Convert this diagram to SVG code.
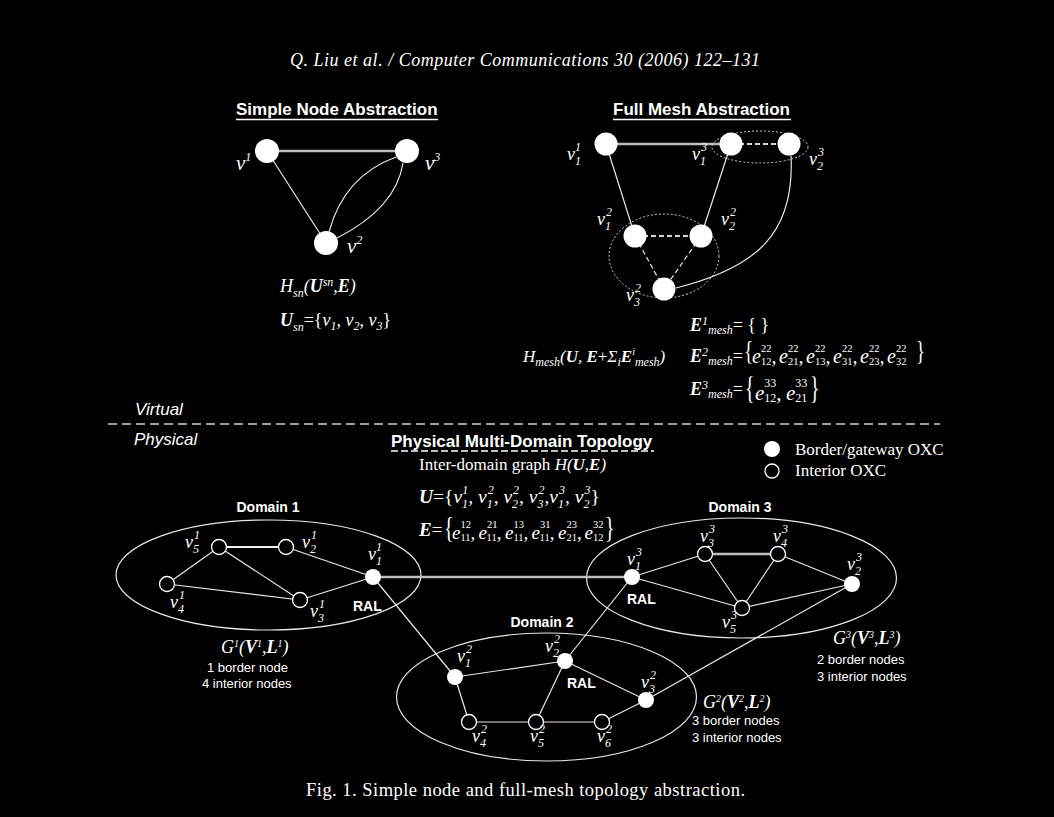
<svg xmlns="http://www.w3.org/2000/svg" width="1054" height="817" viewBox="0 0 1054 817">
<style>
.m{font-family:"Liberation Serif","Times New Roman",serif;font-style:italic;font-size:18px;fill:#fff}
.s{font-size:12px}
.s2{font-size:10px}
.n{font-style:normal;font-size:10.5px}
.b{font-weight:bold}
.up{font-style:normal}
.br{font-family:"Liberation Serif",serif;font-style:normal;fill:#fff;font-size:19px}
.h{font-family:"Liberation Sans",Arial,sans-serif;font-weight:bold;font-size:17px;fill:#fff}
.d{font-family:"Liberation Sans",Arial,sans-serif;font-weight:bold;font-size:14px;fill:#fff}
.p{font-family:"Liberation Sans",Arial,sans-serif;font-size:13px;fill:#fff}
.it{font-family:"Liberation Sans",Arial,sans-serif;font-style:italic;font-size:17px;fill:#fff}
.sf{font-family:"Liberation Serif","Times New Roman",serif;font-size:17px;fill:#fff}
.e{stroke:#e8e8e8;stroke-width:1.2;fill:none}
.tk{stroke:#bdbdbd;stroke-width:2.5;fill:none}
.tw{stroke:#f0f0f0;stroke-width:2;fill:none}
.ds{stroke:#e8e8e8;stroke-width:1.2;stroke-dasharray:5 3;fill:none}
.dsk{stroke:#d8d8d8;stroke-width:2;stroke-dasharray:5 3;fill:none}
.dot{stroke:#d0d0d0;stroke-width:1;stroke-dasharray:2 2;fill:none}
.dom{stroke:#e8e8e8;stroke-width:1.2;fill:none}
.ul{stroke:#fff;stroke-width:1.4}
.bn{fill:#fff}
.in{fill:#000;stroke:#fff;stroke-width:1.3}
</style>
<rect width="1054" height="817" fill="#000"/>

<!-- header and caption -->
<text class="m" x="290" y="66" textLength="470" lengthAdjust="spacing">Q. Liu et al. / Computer Communications 30 (2006) 122–131</text>
<text class="sf" x="306" y="796" style="font-size:18.5px" textLength="439" lengthAdjust="spacing">Fig. 1.  Simple node and full-mesh topology abstraction.</text>

<!-- titles -->
<g id="titles">
<text class="h" x="236" y="115">Simple Node Abstraction</text>
<line class="ul" x1="236" y1="119.5" x2="438" y2="119.5"/>
<text class="h" x="613" y="115">Full Mesh Abstraction</text>
<line class="ul" x1="613" y1="119.5" x2="791" y2="119.5"/>
<text class="h" x="391" y="447">Physical Multi-Domain Topology</text>
<line class="ul" x1="391" y1="451" x2="654" y2="451" stroke-dasharray="7 3"/>
<text class="it" x="135" y="415">Virtual</text>
<text class="it" x="134" y="445">Physical</text>
<line x1="108" y1="424" x2="940" y2="424" stroke="#cfcfcf" stroke-width="1.5" stroke-dasharray="9 5"/>
</g>

<!-- domain ellipses and abstraction ellipses -->
<g id="regions">
<ellipse class="dom" cx="268.5" cy="575" rx="152.5" ry="55"/>
<ellipse class="dom" cx="546.5" cy="697" rx="150" ry="64"/>
<ellipse class="dom" cx="741.5" cy="578" rx="155" ry="60"/>
<ellipse class="dot" cx="760" cy="147" rx="48" ry="16"/>
<ellipse class="dot" cx="664" cy="256" rx="55" ry="42"/>
</g>

<!-- connectors -->
<g id="connectors">
<!-- simple node -->
<line class="tk" x1="267" y1="151" x2="407" y2="151"/>
<line class="e" x1="267" y1="151" x2="326" y2="243"/>
<path class="e" d="M329,232 Q344,176 396,157"/>
<path class="e" d="M337,238 Q396,208 403,163"/>
<!-- full mesh -->
<line class="tk" x1="606" y1="144" x2="731" y2="144"/>
<line class="dsk" x1="731" y1="144" x2="789" y2="144"/>
<line class="e" x1="606" y1="144" x2="635" y2="236"/>
<line class="e" x1="731" y1="144" x2="701" y2="236"/>
<line class="dsk" x1="635" y1="236" x2="701" y2="236"/>
<line class="ds" x1="635" y1="236" x2="664" y2="289"/>
<line class="ds" x1="701" y1="236" x2="664" y2="289"/>
<path class="e" d="M791,156 C795,235 755,268 676,288"/>
<!-- domain 1 -->
<line class="tw" x1="219" y1="547" x2="286" y2="547"/>
<line class="e" x1="219" y1="547" x2="167" y2="584"/>
<line class="e" x1="219" y1="547" x2="300" y2="600"/>
<line class="e" x1="167" y1="584" x2="300" y2="600"/>
<line class="e" x1="286" y1="547" x2="373" y2="577"/>
<line class="e" x1="300" y1="600" x2="373" y2="577"/>
<!-- domain 2 -->
<line class="e" x1="455" y1="677" x2="565" y2="661"/>
<line class="e" x1="455" y1="677" x2="469" y2="722"/>
<line class="e" x1="565" y1="661" x2="536" y2="722"/>
<line class="e" x1="565" y1="661" x2="646" y2="700"/>
<line class="e" x1="469" y1="722" x2="536" y2="722"/>
<line class="e" x1="536" y1="722" x2="602" y2="722"/>
<line class="e" x1="602" y1="722" x2="646" y2="700"/>
<!-- domain 3 -->
<line class="e" x1="632" y1="577" x2="705" y2="554"/>
<line class="tk" x1="705" y1="554" x2="778" y2="554"/>
<line class="e" x1="705" y1="554" x2="742" y2="608"/>
<line class="e" x1="778" y1="554" x2="742" y2="608"/>
<line class="e" x1="778" y1="554" x2="852" y2="584"/>
<line class="e" x1="742" y1="608" x2="852" y2="584"/>
<line class="e" x1="632" y1="577" x2="742" y2="608"/>
<!-- inter-domain -->
<line class="tk" x1="373" y1="577" x2="632" y2="577"/>
<line class="e" x1="373" y1="577" x2="455" y2="677"/>
<line class="e" x1="565" y1="661" x2="632" y2="577"/>
<line class="e" x1="646" y1="700" x2="852" y2="584"/>
</g>

<!-- simple node abstraction nodes -->
<g id="sn-v1"><circle class="bn" cx="267" cy="151" r="12"/><text class="m" x="236" y="170" style="font-size:21px">v<tspan class="s" dy="-9">1</tspan></text></g>
<g id="sn-v3"><circle class="bn" cx="407" cy="151" r="12"/><text class="m" x="425" y="170" style="font-size:21px">v<tspan class="s" dy="-9">3</tspan></text></g>
<g id="sn-v2"><circle class="bn" cx="326" cy="243" r="12"/><text class="m" x="347" y="253" style="font-size:21px">v<tspan class="s" dy="-9">2</tspan></text></g>
<g id="sn-eq">
<text class="m" x="280" y="292">H<tspan class="s" dy="5">sn</tspan><tspan dy="-5">(</tspan><tspan class="b">U</tspan><tspan class="s" dy="-6">sn</tspan><tspan dy="6">,</tspan><tspan class="b">E</tspan>)</text>
<text class="m" x="280" y="326"><tspan class="b">U</tspan><tspan class="s" dy="5">sn</tspan><tspan class="up" dy="-5">={</tspan>v<tspan class="s" dy="4">1</tspan><tspan dy="-4">, v</tspan><tspan class="s" dy="4">2</tspan><tspan dy="-4">, v</tspan><tspan class="s" dy="4">3</tspan><tspan class="up" dy="-4">}</tspan></text>
</g>

<!-- full mesh nodes -->
<g id="fm-v11"><circle class="bn" cx="606" cy="144" r="11.5"/><text class="m" x="567" y="160">v<tspan class="s" dy="5">1</tspan><tspan class="s" dx="-5" dy="-14">1</tspan></text></g>
<g id="fm-v13"><circle class="bn" cx="731" cy="144" r="11.5"/><text class="m" x="692" y="160">v<tspan class="s" dy="5">1</tspan><tspan class="s" dx="-5" dy="-14">3</tspan></text></g>
<g id="fm-v23"><circle class="bn" cx="789" cy="144" r="11.5"/><text class="m" x="809" y="165">v<tspan class="s" dy="5">2</tspan><tspan class="s" dx="-5" dy="-14">3</tspan></text></g>
<g id="fm-v12"><circle class="bn" cx="635" cy="236" r="11.5"/><text class="m" x="597" y="225">v<tspan class="s" dy="5">1</tspan><tspan class="s" dx="-5" dy="-14">2</tspan></text></g>
<g id="fm-v22"><circle class="bn" cx="701" cy="236" r="11.5"/><text class="m" x="721" y="225">v<tspan class="s" dy="5">2</tspan><tspan class="s" dx="-5" dy="-14">2</tspan></text></g>
<g id="fm-v32"><circle class="bn" cx="664" cy="289" r="11.5"/><text class="m" x="626" y="301">v<tspan class="s" dy="5">3</tspan><tspan class="s" dx="-5" dy="-14">2</tspan></text></g>

<!-- mesh equations -->
<g id="mesh-eq">
<text class="m" x="523" y="362" style="font-size:17px">H<tspan class="s" dy="4">mesh</tspan><tspan dy="-4">(</tspan><tspan class="b">U</tspan>, <tspan class="b">E</tspan><tspan class="up">+</tspan>Σ<tspan class="s" dy="4">i</tspan><tspan class="b" dy="-4">E</tspan><tspan class="s2" dy="-7">i</tspan><tspan class="s" dy="11">mesh</tspan><tspan dy="-4">)</tspan></text>
<text class="m" x="690" y="331"><tspan class="b">E</tspan><tspan class="s" dy="-6">1</tspan><tspan class="s" dy="9">mesh</tspan><tspan class="up" dy="-3">= { }</tspan></text>
<text class="m" x="690" y="362"><tspan class="b">E</tspan><tspan class="s" dy="-6">2</tspan><tspan class="s" dy="9">mesh</tspan><tspan class="up" dy="-3">=</tspan></text>
<text class="br" transform="translate(744,360) scale(1,1.4)">{</text>
<text class="m" y="363" style="font-size:20px"><tspan x="752">e</tspan><tspan class="n" dy="-11">22</tspan><tspan class="n" dx="-10.5" dy="13">12</tspan><tspan dy="-2">,</tspan><tspan x="779">e</tspan><tspan class="n" dy="-11">22</tspan><tspan class="n" dx="-10.5" dy="13">21</tspan><tspan dy="-2">,</tspan><tspan x="806">e</tspan><tspan class="n" dy="-11">22</tspan><tspan class="n" dx="-10.5" dy="13">13</tspan><tspan dy="-2">,</tspan><tspan x="833">e</tspan><tspan class="n" dy="-11">22</tspan><tspan class="n" dx="-10.5" dy="13">31</tspan><tspan dy="-2">,</tspan><tspan x="860">e</tspan><tspan class="n" dy="-11">22</tspan><tspan class="n" dx="-10.5" dy="13">23</tspan><tspan dy="-2">,</tspan><tspan x="887">e</tspan><tspan class="n" dy="-11">22</tspan><tspan class="n" dx="-10.5" dy="13">32</tspan></text>
<text class="br" transform="translate(916,360) scale(1,1.4)">}</text>
<text class="m" x="690" y="395"><tspan class="b">E</tspan><tspan class="s" dy="-6">3</tspan><tspan class="s" dy="9">mesh</tspan><tspan class="up" dy="-3">=</tspan></text>
<text class="br" transform="translate(745,399) scale(1.05,1.7)">{</text>
<text class="m" y="400" style="font-size:21px"><tspan x="755">e</tspan><tspan class="n" style="font-size:12px" dy="-13">33</tspan><tspan class="n" style="font-size:12px" dx="-12" dy="15">12</tspan><tspan dy="-2">,</tspan><tspan x="786">e</tspan><tspan class="n" style="font-size:12px" dy="-13">33</tspan><tspan class="n" style="font-size:12px" dx="-12" dy="15">21</tspan></text>
<text class="br" transform="translate(810,399) scale(1.05,1.7)">}</text>
</g>

<!-- physical header text -->
<g id="phys-eq">
<text class="sf" x="419" y="470">Inter-domain graph <tspan font-style="italic">H(</tspan><tspan font-style="italic" font-weight="bold">U</tspan><tspan font-style="italic">,</tspan><tspan font-style="italic" font-weight="bold">E</tspan><tspan font-style="italic">)</tspan></text>
<text class="m" x="419" y="503" style="font-size:19.5px"><tspan class="b">U</tspan><tspan class="up">={</tspan>v<tspan class="s" dy="5">1</tspan><tspan class="s" dx="-5" dy="-14">1</tspan><tspan dy="9">, v</tspan><tspan class="s" dy="5">1</tspan><tspan class="s" dx="-5" dy="-14">2</tspan><tspan dy="9">, v</tspan><tspan class="s" dy="5">2</tspan><tspan class="s" dx="-5" dy="-14">2</tspan><tspan dy="9">, v</tspan><tspan class="s" dy="5">3</tspan><tspan class="s" dx="-5" dy="-14">2</tspan><tspan dy="9">,v</tspan><tspan class="s" dy="5">1</tspan><tspan class="s" dx="-5" dy="-14">3</tspan><tspan dy="9">, v</tspan><tspan class="s" dy="5">2</tspan><tspan class="s" dx="-5" dy="-14">3</tspan><tspan class="up" dy="9">}</tspan></text>
<text class="m" x="419" y="536" style="font-size:19px"><tspan class="b">E</tspan><tspan class="up">=</tspan></text>
<text class="br" transform="translate(444,537) scale(1.05,1.55)">{</text>
<text class="m" y="539" style="font-size:19px"><tspan x="452">e</tspan><tspan class="n" dy="-11">12</tspan><tspan class="n" dx="-10.5" dy="13">11</tspan><tspan dy="-2">,</tspan><tspan x="478.5">e</tspan><tspan class="n" dy="-11">21</tspan><tspan class="n" dx="-10.5" dy="13">11</tspan><tspan dy="-2">,</tspan><tspan x="505">e</tspan><tspan class="n" dy="-11">13</tspan><tspan class="n" dx="-10.5" dy="13">11</tspan><tspan dy="-2">,</tspan><tspan x="531.5">e</tspan><tspan class="n" dy="-11">31</tspan><tspan class="n" dx="-10.5" dy="13">11</tspan><tspan dy="-2">,</tspan><tspan x="558">e</tspan><tspan class="n" dy="-11">23</tspan><tspan class="n" dx="-10.5" dy="13">21</tspan><tspan dy="-2">,</tspan><tspan x="584.5">e</tspan><tspan class="n" dy="-11">32</tspan><tspan class="n" dx="-10.5" dy="13">12</tspan></text>
<text class="br" transform="translate(605,537) scale(1.05,1.55)">}</text>
</g>

<!-- legend -->
<g id="legend">
<circle class="bn" cx="772" cy="449" r="8"/>
<text class="sf" x="795" y="455">Border/gateway OXC</text>
<circle class="in" cx="772" cy="471" r="7"/>
<text class="sf" x="795" y="476">Interior OXC</text>
</g>

<!-- Domain 1 -->
<g id="domain1-label">
<text class="d" x="268" y="512" text-anchor="middle">Domain 1</text>
<text class="m" x="221" y="653">G<tspan class="s2" dy="-6">1</tspan><tspan dy="6">(</tspan><tspan class="b">V</tspan><tspan class="s2" dy="-6">1</tspan><tspan dy="6">,</tspan><tspan class="b">L</tspan><tspan class="s2" dy="-6">1</tspan><tspan dy="6">)</tspan></text>
<text class="p" x="207" y="672">1 border node</text>
<text class="p" x="202" y="688">4 interior nodes</text>
<text class="d" x="353" y="611">RAL</text>
</g>
<g id="d1-v5"><circle class="in" cx="219" cy="547" r="7.5"/><text class="m" x="185" y="548">v<tspan class="s" dy="5">5</tspan><tspan class="s" dx="-5" dy="-14">1</tspan></text></g>
<g id="d1-v2"><circle class="in" cx="286" cy="547" r="7.5"/><text class="m" x="302" y="548">v<tspan class="s" dy="5">2</tspan><tspan class="s" dx="-5" dy="-14">1</tspan></text></g>
<g id="d1-v4"><circle class="in" cx="167" cy="584" r="7.5"/><text class="m" x="170" y="608">v<tspan class="s" dy="5">4</tspan><tspan class="s" dx="-5" dy="-14">1</tspan></text></g>
<g id="d1-v3"><circle class="in" cx="300" cy="600" r="7.5"/><text class="m" x="310" y="617">v<tspan class="s" dy="5">3</tspan><tspan class="s" dx="-5" dy="-14">1</tspan></text></g>
<g id="d1-v1"><circle class="bn" cx="373" cy="577" r="8"/><text class="m" x="368" y="560">v<tspan class="s" dy="5">1</tspan><tspan class="s" dx="-5" dy="-14">1</tspan></text></g>

<!-- Domain 2 -->
<g id="domain2-label">
<text class="d" x="542" y="627" text-anchor="middle">Domain 2</text>
<text class="m" x="703" y="708">G<tspan class="s2" dy="-6">2</tspan><tspan dy="6">(</tspan><tspan class="b">V</tspan><tspan class="s2" dy="-6">2</tspan><tspan dy="6">,</tspan><tspan class="b">L</tspan><tspan class="s2" dy="-6">2</tspan><tspan dy="6">)</tspan></text>
<text class="p" x="692" y="725">3 border nodes</text>
<text class="p" x="692" y="742">3 interior nodes</text>
<text class="d" x="567" y="688">RAL</text>
</g>
<g id="d2-v1"><circle class="bn" cx="455" cy="677" r="8"/><text class="m" x="457" y="662">v<tspan class="s" dy="5">1</tspan><tspan class="s" dx="-5" dy="-14">2</tspan></text></g>
<g id="d2-v2"><circle class="bn" cx="565" cy="661" r="8"/><text class="m" x="545" y="652">v<tspan class="s" dy="5">2</tspan><tspan class="s" dx="-5" dy="-14">2</tspan></text></g>
<g id="d2-v3"><circle class="bn" cx="646" cy="700" r="8"/><text class="m" x="641" y="688">v<tspan class="s" dy="5">3</tspan><tspan class="s" dx="-5" dy="-14">2</tspan></text></g>
<g id="d2-v4"><circle class="in" cx="469" cy="722" r="7.5"/><text class="m" x="472" y="742">v<tspan class="s" dy="5">4</tspan><tspan class="s" dx="-5" dy="-14">2</tspan></text></g>
<g id="d2-v5"><circle class="in" cx="536" cy="722" r="7.5"/><text class="m" x="530" y="742">v<tspan class="s" dy="5">5</tspan><tspan class="s" dx="-5" dy="-14">2</tspan></text></g>
<g id="d2-v6"><circle class="in" cx="602" cy="722" r="7.5"/><text class="m" x="597" y="742">v<tspan class="s" dy="5">6</tspan><tspan class="s" dx="-5" dy="-14">2</tspan></text></g>

<!-- Domain 3 -->
<g id="domain3-label">
<text class="d" x="740" y="512" text-anchor="middle">Domain 3</text>
<text class="m" x="833" y="644">G<tspan class="s2" dy="-6">3</tspan><tspan dy="6">(</tspan><tspan class="b">V</tspan><tspan class="s2" dy="-6">3</tspan><tspan dy="6">,</tspan><tspan class="b">L</tspan><tspan class="s2" dy="-6">3</tspan><tspan dy="6">)</tspan></text>
<text class="p" x="817" y="664">2 border nodes</text>
<text class="p" x="817" y="681">3 interior nodes</text>
<text class="d" x="627" y="604">RAL</text>
</g>
<g id="d3-v1"><circle class="bn" cx="632" cy="577" r="8"/><text class="m" x="627" y="565">v<tspan class="s" dy="5">1</tspan><tspan class="s" dx="-5" dy="-14">3</tspan></text></g>
<g id="d3-v3"><circle class="in" cx="705" cy="554" r="7.5"/><text class="m" x="700" y="542">v<tspan class="s" dy="5">3</tspan><tspan class="s" dx="-5" dy="-14">3</tspan></text></g>
<g id="d3-v4"><circle class="in" cx="778" cy="554" r="7.5"/><text class="m" x="773" y="542">v<tspan class="s" dy="5">4</tspan><tspan class="s" dx="-5" dy="-14">3</tspan></text></g>
<g id="d3-v5"><circle class="in" cx="742" cy="608" r="7.5"/><text class="m" x="722" y="628">v<tspan class="s" dy="5">5</tspan><tspan class="s" dx="-5" dy="-14">3</tspan></text></g>
<g id="d3-v2"><circle class="bn" cx="852" cy="584" r="8"/><text class="m" x="847" y="570">v<tspan class="s" dy="5">2</tspan><tspan class="s" dx="-5" dy="-14">3</tspan></text></g>
</svg>
